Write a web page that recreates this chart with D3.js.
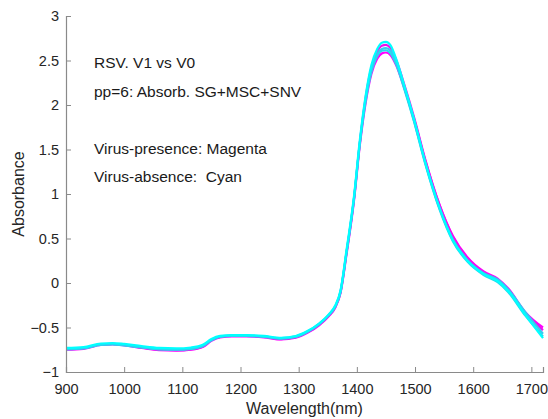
<!DOCTYPE HTML>
<html>
  <head>
    <meta charset='utf-8'>
    <title>RSV V1 vs V0 spectra</title>
    <script src='https://cdn.jsdelivr.net/npm/d3@7'></script>
  </head>
  <style>
    body {margin:0; background:white;}
    .tick_lbl {font-family:Arial,'Liberation Sans',sans-serif; font-size:14.5px; fill:#262626;}
    .ax_lbl {font-family:Arial,'Liberation Sans',sans-serif; font-size:16px; fill:#262626;}
    .note {font-family:Arial,'Liberation Sans',sans-serif; font-size:15.5px; fill:#1a1a1a; white-space:pre;}
  </style>
  <body>
    <svg id='chart'></svg>
<script>
  // wavelengths (nm) sampled along the spectra
  var wl=[900,930,960,980,1000,1030,1060,1090,1115,1135,1150,1165,1185,1210,1240,1270,1295,1315,1335,1352,1363,1372,1382,
          1395,1405,1415,1425,1435,1443,1450,1458,1468,1482,1498,1518,1542,1565,1590,1618,1642,1660,1690,1720];
  // virus-absence spectra (cyan)
  var cyan1=[-0.73,-0.72,-0.68,-0.675,-0.685,-0.71,-0.73,-0.735,-0.725,-0.695,-0.63,-0.595,-0.585,-0.585,-0.595,-0.615,-0.595,-0.54,-0.455,-0.35,-0.25,-0.08,0.36,
             0.97,1.60,2.10,2.45,2.63,2.70,2.71,2.67,2.51,2.21,1.85,1.35,0.85,0.48,0.25,0.10,0.02,-0.09,-0.36,-0.62];
  var cyan2=[-0.74,-0.73,-0.69,-0.685,-0.695,-0.72,-0.74,-0.745,-0.735,-0.705,-0.64,-0.6,-0.59,-0.59,-0.6,-0.62,-0.6,-0.545,-0.46,-0.355,-0.26,-0.09,0.34,
             0.95,1.57,2.06,2.39,2.57,2.63,2.64,2.61,2.47,2.19,1.83,1.34,0.84,0.49,0.26,0.11,0.04,-0.07,-0.33,-0.57];
  var cyan3=[-0.745,-0.735,-0.695,-0.69,-0.70,-0.725,-0.745,-0.75,-0.74,-0.71,-0.645,-0.605,-0.595,-0.595,-0.605,-0.625,-0.605,-0.55,-0.465,-0.36,-0.265,-0.10,0.33,
             0.94,1.56,2.04,2.37,2.55,2.61,2.615,2.58,2.45,2.17,1.82,1.33,0.83,0.47,0.24,0.09,0.01,-0.10,-0.37,-0.60];
  // virus-presence spectra (magenta)
  var mag1=[-0.745,-0.735,-0.69,-0.685,-0.695,-0.725,-0.75,-0.755,-0.745,-0.715,-0.645,-0.605,-0.595,-0.595,-0.605,-0.63,-0.61,-0.555,-0.47,-0.365,-0.27,-0.10,0.33,
            0.94,1.57,2.08,2.42,2.60,2.665,2.675,2.64,2.50,2.22,1.87,1.38,0.88,0.52,0.28,0.12,0.04,-0.07,-0.34,-0.53];
  var mag2=[-0.75,-0.74,-0.695,-0.69,-0.70,-0.73,-0.755,-0.76,-0.75,-0.72,-0.65,-0.61,-0.6,-0.6,-0.61,-0.635,-0.615,-0.56,-0.475,-0.37,-0.275,-0.11,0.31,
            0.92,1.54,2.02,2.35,2.52,2.58,2.59,2.56,2.44,2.18,1.85,1.37,0.88,0.53,0.29,0.13,0.05,-0.06,-0.33,-0.50];
  var xTicks=[900,1000,1100,1200,1300,1400,1500,1600,1700],
      yTicks=[-1,-0.5,0,0.5,1,1.5,2,2.5,3];
  var notes=['RSV. V1 vs V0','pp=6: Absorb. SG+MSC+SNV','','Virus-presence: Magenta','Virus-absence:  Cyan'];

  var width=548, height=419;
  var margin={top:16,right:5,bottom:47,left:66};
  var svg=d3.select('#chart').attr('width',width).attr('height',height);
  var x=d3.scaleLinear().domain([900,1720]).range([margin.left,width-margin.right]),
      y=d3.scaleLinear().domain([-1,3]).range([height-margin.bottom,margin.top]);

  var line=d3.line().curve(d3.curveMonotoneX)
             .x(function(d,i) {return x(wl[i]);})
             .y(function(d) {return y(d);});
  var series=[{v:mag2,c:'#ff00ff'},{v:mag1,c:'#ee11ee'},
              {v:cyan3,c:'#22ddee'},{v:cyan2,c:'#33ccf0'},{v:cyan1,c:'#00ffff'}];
  svg.selectAll('path.spec').data(series).enter().append('path')
     .attr('class','spec').attr('d',function(d) {return line(d.v);})
     .attr('fill','none').attr('stroke',function(d) {return d.c;})
     .attr('stroke-width',2.2);

  var axCol='#8a8a8a';
  var xAxis=g=>g.attr('transform',`translate(0,${y(-1)})`)
      .call(d3.axisBottom(x).tickValues(xTicks).tickSize(-5).tickPadding(12).tickFormat(d3.format('d'))),
      yAxis=g=>g.attr('transform',`translate(${x(900)},0)`)
      .call(d3.axisLeft(y).tickValues(yTicks).tickSize(-5).tickPadding(7).tickFormat(d3.format('')));
  [svg.append('g').call(xAxis),svg.append('g').call(yAxis)].forEach(function(g) {
    g.select('.domain').attr('stroke',axCol).attr('stroke-width',1.2);
    g.selectAll('.tick line').attr('stroke',axCol);
    g.selectAll('.tick text').attr('class','tick_lbl').attr('fill',null);
  });
  svg.selectAll('g').attr('font-family',null).attr('font-size',null);

  svg.append('text').attr('class','ax_lbl').attr('text-anchor','middle')
     .attr('x',(x(900)+x(1720))/2).attr('y',414).text('Wavelength(nm)');
  svg.append('text').attr('class','ax_lbl').attr('text-anchor','middle')
     .attr('transform',`translate(24,${(y(-1)+y(3))/2}) rotate(-90)`).text('Absorbance');

  svg.selectAll('text.note').data(notes).enter().append('text')
     .attr('class','note').attr('x',94)
     .attr('y',function(d,i) {return 68+i*28.5;})
     .text(function(d) {return d;});
</script>
  </body>
</html>
